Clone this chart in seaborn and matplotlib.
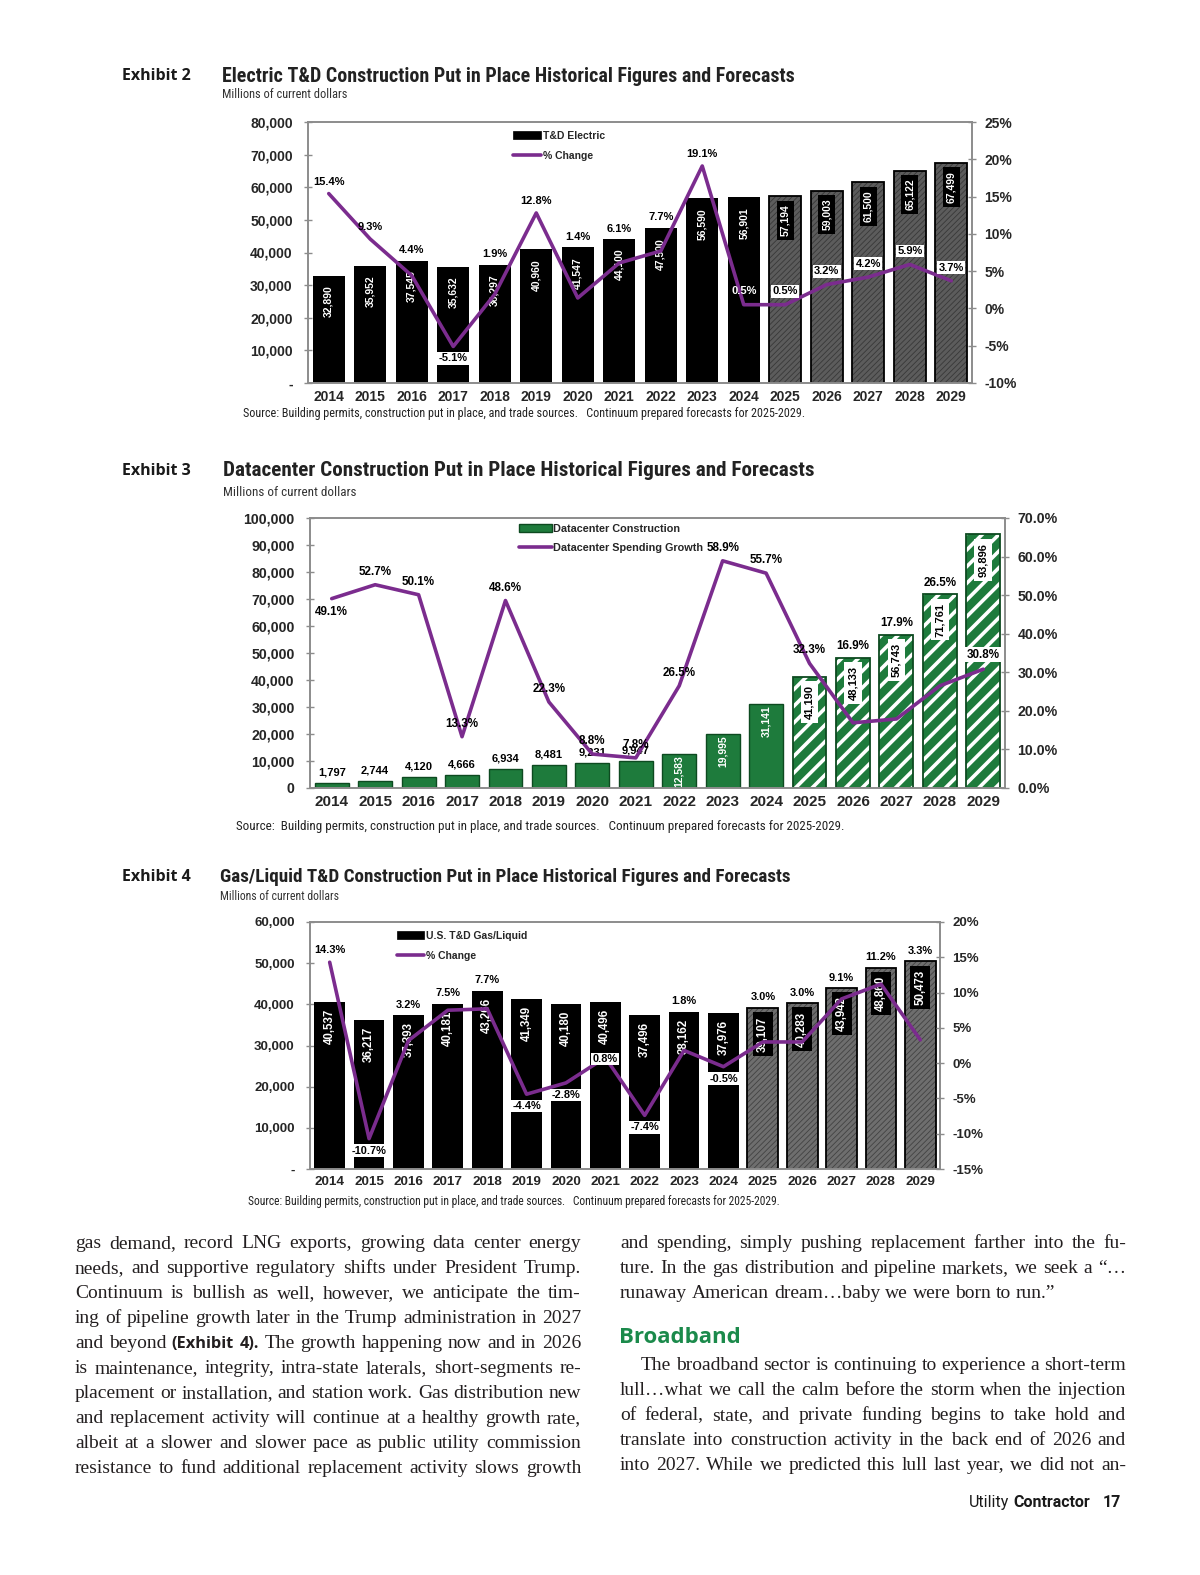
import matplotlib
matplotlib.use('Agg')
import numpy as np
import pandas as pd
import matplotlib.pyplot as plt
import seaborn as sns
from matplotlib import font_manager
from matplotlib.lines import Line2D
from matplotlib.patches import Patch

# ---- data ----
years = [str(y) for y in range(2014, 2030)]
n_hist = 11   # 2014-2024 actual, 2025-2029 forecast

elec_vals = [32890, 35952, 37545, 35632, 36297, 40960, 41547, 44100, 47500,
             56590, 56901, 57194, 59003, 61500, 65122, 67499]
elec_pct = [15.4, 9.3, 4.4, -5.1, 1.9, 12.8, 1.4, 6.1, 7.7, 19.1, 0.5,
            0.5, 3.2, 4.2, 5.9, 3.7]

dc_vals = [1797, 2744, 4120, 4666, 6934, 8481, 9231, 9947, 12583, 19995,
           31141, 41190, 48133, 56743, 71761, 93896]
dc_pct = [49.1, 52.7, 50.1, 13.3, 48.6, 22.3, 8.8, 7.8, 26.5, 58.9, 55.7,
          32.3, 16.9, 17.9, 26.5, 30.8]

gas_vals = [40537, 36217, 37393, 40181, 43266, 41349, 40180, 40496, 37496,
            38162, 37976, 39107, 40283, 43942, 48860, 50473]
gas_pct = [14.3, -10.7, 3.2, 7.5, 7.7, -4.4, -2.8, 0.8, -7.4, 1.8, -0.5,
           3.0, 3.0, 9.1, 11.2, 3.3]

titles = ['Electric T&D Construction Put in Place Historical Figures and Forecasts',
          'Datacenter Construction Put in Place Historical Figures and Forecasts',
          'Gas/Liquid T&D Construction Put in Place Historical Figures and Forecasts']
exhibits = ['Exhibit 2', 'Exhibit 3', 'Exhibit 4']
subtitle = 'Millions of current dollars'
sources = ['Source: Building permits, construction put in place, and trade sources.   Continuum prepared forecasts for 2025-2029.',
           'Source:  Building permits, construction put in place, and trade sources.   Continuum prepared forecasts for 2025-2029.',
           'Source: Building permits, construction put in place, and trade sources.   Continuum prepared forecasts for 2025-2029.']

body_left = [
    'gas demand, record LNG exports, growing data center energy',
    'needs, and supportive regulatory shifts under President Trump.',
    'Continuum is bullish as well, however, we anticipate the tim-',
    'ing of pipeline growth later in the Trump administration in 2027',
    'and beyond (Exhibit 4). The growth happening now and in 2026',
    'is maintenance, integrity, intra-state laterals, short-segments re-',
    'placement or installation, and station work. Gas distribution new',
    'and replacement activity will continue at a healthy growth rate,',
    'albeit at a slower and slower pace as public utility commission',
    'resistance to fund additional replacement activity slows growth',
]
body_right_top = [
    'and spending, simply pushing replacement farther into the fu-',
    'ture. In the gas distribution and pipeline markets, we seek a \u201c\u2026',
    'runaway American dream\u2026baby we were born to run.\u201d',
]
body_right_bot = [
    'The broadband sector is continuing to experience a short-term',
    'lull\u2026what we call the calm before the storm when the injection',
    'of federal, state, and private funding begins to take hold and',
    'translate into construction activity in the back end of 2026 and',
    'into 2027. While we predicted this lull last year, we did not an-',
]
bold_words = {'(Exhibit', '4).'}

# ---- setup ----
W, H = 1200, 1575
sns.set_theme(style='white')
ttf = font_manager.fontManager.ttflist
names = {f.name for f in ttf}
NARROW, STRETCH = 'Liberation Sans', 'normal'
for nm in ['Liberation Sans Narrow', 'Roboto Condensed', 'Noto Sans Condensed', 'Open Sans Condensed',
           'DejaVu Sans Condensed', 'Noto Sans SemiCondensed']:
    if nm in names:
        NARROW = nm
        break
else:
    if any(f.name == 'Noto Sans' and str(f.stretch) in ('condensed', 'semi-condensed') for f in ttf):
        NARROW, STRETCH = 'Noto Sans', 'condensed'
plt.rcParams['font.family'] = ['Liberation Sans', 'DejaVu Sans']
plt.rcParams['hatch.linewidth'] = 0.6

PURPLE = '#7b2c8e'
GRAY = '#8c8c8c'

fig = plt.figure(figsize=(12, 15.75), dpi=100)
fig.patch.set_facecolor('white')
R = fig.canvas.get_renderer()


def fx(x):
    return x / W


def fy(y):
    return 1 - y / H


def fit(t, width_px):
    w = t.get_window_extent(R).width
    t.set_fontsize(t.get_fontsize() * width_px / w)


charts = [
    dict(vals=elec_vals, pct=elec_pct, rect=(308, 122, 972, 383), ymax=80000, ystep=10000, zero='-',
         plim=(-10, 25), pstep=5, pfmt='{:.0f}%', hist='black', hist_edge='black', hist_lw=0,
         fc='#5c5c5c', hatch='//////', hatch_col='#383838', hatch_lw=0.6, fc_edge='black',
         small_below=0, hist_off=-7, hist_val_size=7.5, fc_box=('black', 'white'),
         inside={10, 11, 12, 13, 14, 15}, inside_off=6, below=set(), hist_inside_box=False,
         legend=('T&D Electric', '% Change'), leg_xy=(513, 131), leg_len=2.7, leg_sp=0.95,
         tick_size=10, year_size=10, pct_size=8, val_size=7.5, leg_size=7.5,
         head_y=76, sub_y=95, title_x=222, title_w=575, sub_w=125, src=(243, 414, 562)),
    dict(vals=dc_vals, pct=dc_pct, rect=(310, 518, 1005, 788), ymax=100000, ystep=10000, zero='0',
         plim=(0, 70), pstep=10, pfmt='{:.1f}%', hist='#1e7b3c', hist_edge='#0d4a20', hist_lw=1.0,
         fc='#1e7b3c', hatch='//', hatch_col='white', hatch_lw=2.6, fc_edge='#0d4a20',
         small_below=11000, hist_off=-1, hist_val_size=7.5, fc_box=('white', 'black'),
         inside={15}, inside_off=6, below={0}, hist_inside_box=True,
         legend=('Datacenter Construction', 'Datacenter Spending Growth'), leg_xy=(519, 524), leg_len=3.0,
         leg_sp=0.8,
         tick_size=10.2, year_size=11, pct_size=8.4, val_size=8, leg_size=7.8,
         head_y=471, sub_y=492, title_x=223, title_w=594, sub_w=133, src=(236, 826, 605)),
    dict(vals=gas_vals, pct=gas_pct, rect=(310, 922, 940, 1169), ymax=60000, ystep=10000, zero='-',
         plim=(-15, 20), pstep=5, pfmt='{:.0f}%', hist='black', hist_edge='black', hist_lw=0,
         fc='#6e6e6e', hatch='//////', hatch_col='#424242', hatch_lw=0.6, fc_edge='black',
         small_below=0, hist_off=-5, hist_val_size=8.3, fc_box=('black', 'white'),
         inside={7}, inside_off=-1, below=set(), hist_inside_box=True,
         legend=('U.S. T&D Gas/Liquid', '% Change'), leg_xy=(397, 931), leg_len=2.6, leg_sp=0.95,
         tick_size=9.5, year_size=9.7, pct_size=7.9, val_size=8.3, leg_size=7.5,
         head_y=877, sub_y=896, title_x=220, title_w=573, sub_w=119, src=(248, 1201, 536)),
]

x = np.arange(len(years))
white_box = dict(boxstyle='square,pad=0.12', fc='white', ec='none')
TKW = dict(family=[NARROW, 'DejaVu Sans'], fontstretch=STRETCH)

for k, c in enumerate(charts):
    vals, pct = c['vals'], c['pct']
    l, t, r, b = c['rect']
    ax = fig.add_axes([fx(l), fy(b), (r - l) / W, (b - t) / H])
    df = pd.DataFrame({'year': years, 'value': vals})
    colors = [c['hist']] * n_hist + [c['fc']] * (len(years) - n_hist)
    plt.rcParams['hatch.linewidth'] = c['hatch_lw']
    sns.barplot(data=df, x='year', y='value', hue='year', palette=colors, legend=False,
                ax=ax, width=0.78, saturation=1, edgecolor=c['hist_edge'], linewidth=c['hist_lw'])
    for p in ax.patches[n_hist:]:
        p.set_hatch(c['hatch'])
        p.set_edgecolor(c['hatch_col'])
        p.set_linewidth(0)
        if hasattr(p, 'set_hatch_linewidth'):
            p.set_hatch_linewidth(c['hatch_lw'])
    ax.bar(x[n_hist:], vals[n_hist:], width=0.78, fill=False, edgecolor=c['fc_edge'], linewidth=1.3)

    ax2 = ax.twinx()
    sns.lineplot(x=x, y=pct, ax=ax2, color=PURPLE, linewidth=2.6)

    ax.set_xlim(-0.5, len(years) - 0.5)
    ax.set_ylim(0, c['ymax'])
    yt = np.arange(0, c['ymax'] + 1, c['ystep'])
    ax.set_yticks(yt)
    ax.set_yticklabels([c['zero']] + [f'{v:,}' for v in yt[1:]], fontweight='bold', fontsize=c['tick_size'])
    ax.set_xticks(x)
    ax.set_xticklabels(years, fontweight='bold', fontsize=c['year_size'])
    ax.set_xticks(np.arange(-0.5, len(years)), minor=True)
    ax.tick_params(axis='x', which='major', length=0, pad=5)
    ax.tick_params(axis='x', which='minor', length=6, direction='inout', color=GRAY, width=1)
    ax.tick_params(axis='y', length=6, direction='inout', color=GRAY, width=1, pad=8, left=True)
    ax.set_xlabel('')
    ax.set_ylabel('')

    p0, p1 = c['plim']
    pt = np.arange(p0, p1 + 0.01, c['pstep'])
    ax2.set_ylim(p0, p1)
    ax2.set_yticks(pt)
    ax2.set_yticklabels([c['pfmt'].format(v) for v in pt], fontweight='bold', fontsize=c['tick_size'])
    ax2.tick_params(axis='y', length=6, direction='inout', color=GRAY, width=1, pad=6, right=True)
    ax2.set_ylabel('')
    for a in (ax, ax2):
        a.grid(False)
        for s in a.spines.values():
            s.set_visible(True)
            s.set_color(GRAY)
            s.set_linewidth(1.2)

    # bar value labels
    for i, v in enumerate(vals):
        lab = f'{v:,}'
        if i >= n_hist:
            fcol, tcol = c['fc_box']
            ax.annotate(lab, (i, v), xytext=(0, -6), textcoords='offset points', rotation=90,
                        ha='center', va='top', color=tcol, fontsize=c['val_size'], fontweight='bold',
                        bbox=dict(boxstyle='square,pad=0.35', fc=fcol, ec='none'))
        elif v < c['small_below']:
            ax.annotate(lab, (i, v), xytext=(0, 4), textcoords='offset points', ha='center', va='bottom',
                        color='black', fontsize=c['val_size'], fontweight='bold')
        else:
            ax.annotate(lab, (i, v), xytext=(0, c['hist_off']), textcoords='offset points', rotation=90,
                        ha='center', va='top', color='white', fontsize=c['hist_val_size'], fontweight='bold')

    # percent labels
    for i, p in enumerate(pct):
        txt = f'{p:.1f}%'
        pt_y = ax2.transData.transform((i, p))[1]
        top_y = ax.transData.transform((i, vals[i]))[1]
        kw = dict(textcoords='offset points', ha='center', fontsize=c['pct_size'], fontweight='bold')
        if p < 0 or i in c['below']:
            ax2.annotate(txt, (i, p), xytext=(0, -5), va='top', color='black', bbox=white_box, **kw)
        elif i in c['inside']:
            va = 'bottom' if c['inside_off'] > 0 else 'center'
            if i >= n_hist or c['hist_inside_box']:
                ax2.annotate(txt, (i, p), xytext=(0, c['inside_off']), va=va, color='black',
                             bbox=white_box, **kw)
            else:
                ax2.annotate(txt, (i, p), xytext=(0, c['inside_off']), va=va, color='white', **kw)
        elif pt_y >= top_y:
            ax2.annotate(txt, (i, p), xytext=(0, 5), va='bottom', color='black', **kw)
        else:
            ax2.annotate(txt, (i, vals[i]), xycoords=ax.transData, xytext=(0, 4), va='bottom',
                         color='black', **kw)

    handles = [Patch(facecolor=c['hist'], edgecolor=c['hist_edge'], linewidth=max(c['hist_lw'], 0.5)),
               Line2D([], [], color=PURPLE, linewidth=2.6)]
    lx, ly = c['leg_xy']
    ax2.legend(handles, c['legend'], loc='upper left', bbox_to_anchor=(fx(lx), fy(ly)),
               bbox_transform=fig.transFigure, frameon=False,
               prop=dict(weight='bold', size=c['leg_size']), handlelength=c['leg_len'],
               handleheight=0.8, handletextpad=0.15, labelspacing=c['leg_sp'], borderpad=0, borderaxespad=0)

    # headings
    fig.text(fx(122), fy(c['head_y']), exhibits[k], family=['Open Sans', 'DejaVu Sans'],
             weight='bold', size=11.5, va='center', color='#1a1a1a')
    tt = fig.text(fx(c['title_x']), fy(c['head_y']), titles[k], weight='bold', size=14,
                  va='center', color='#222222', **TKW)
    fit(tt, c['title_w'])
    st = fig.text(fx(c['title_x']), fy(c['sub_y']), subtitle, size=8, va='center',
                  color='#333333', **TKW)
    fit(st, c['sub_w'])
    sx, sy, sw = c['src']
    so = fig.text(fx(sx), fy(sy), sources[k], size=8, va='center', color='#222222', **TKW)
    fit(so, sw)


# ---- body text ----
SERIF = ['Liberation Serif', 'DejaVu Serif']
SANS_B = ['Open Sans', 'DejaVu Sans']
INK = '#231f20'


def make_word(w, size):
    if w in bold_words:
        return fig.text(0, 0, w, family=SANS_B, weight='bold', size=size * 0.84, va='baseline', color=INK)
    return fig.text(0, 0, w, family=SERIF, size=size, va='baseline', color=INK)


def natural(line, size):
    ws = []
    for w in line.split(' '):
        t = make_word(w, size)
        ws.append(t.get_window_extent(R).width)
        t.remove()
    return sum(ws) + 3.5 * (len(ws) - 1)


def put_line(x0, x1, base, line, size, justify=True):
    ts = [make_word(w, size) for w in line.split(' ')]
    ws = [t.get_window_extent(R).width for t in ts]
    if justify and len(ts) > 1:
        gap = (x1 - x0 - sum(ws)) / (len(ts) - 1)
    else:
        gap = size * 0.25 * 100 / 72
    xx = x0
    for t, w in zip(ts, ws):
        t.set_position((fx(xx), fy(base)))
        xx += w + gap


base_size = 13
all_lines = [(l, 506) for l in body_left] + [(l, 506) for l in body_right_top[:2]] + \
            [(body_right_bot[0], 485)] + [(l, 506) for l in body_right_bot[1:]]
size = min(14, min(base_size * wd / natural(l, base_size) for l, wd in all_lines))

for i, line in enumerate(body_left):
    put_line(75, 581, 1248 + 25 * i, line, size)
for i, line in enumerate(body_right_top):
    put_line(620, 1126, 1248 + 25 * i, line, size, justify=(i < 2))
fig.text(fx(619), fy(1343), 'Broadband', family=SANS_B, weight='bold', size=16,
         va='baseline', color='#1b8a4b')
put_line(641, 1126, 1370, body_right_bot[0], size)
for i, line in enumerate(body_right_bot[1:]):
    put_line(620, 1126, 1395 + 25 * i, line, size)

# footer
f17 = fig.text(fx(1121), fy(1507), '17', family=['Roboto', 'DejaVu Sans'], weight='bold',
               size=11.5, ha='right', va='baseline', color='#1a1a1a')
fc_ = fig.text(fx(1090), fy(1507), 'Contractor', family=['Roboto', 'DejaVu Sans'], weight='bold',
               size=11.5, ha='right', va='baseline', color='#1a1a1a')
cw = fc_.get_window_extent(R).width
fig.text(fx(1090 - cw - 4), fy(1507), 'Utility', family=['Roboto', 'DejaVu Sans'],
         size=11.5, ha='right', va='baseline', color='#1a1a1a')

fig.savefig('out.png', dpi=100, facecolor='white')
